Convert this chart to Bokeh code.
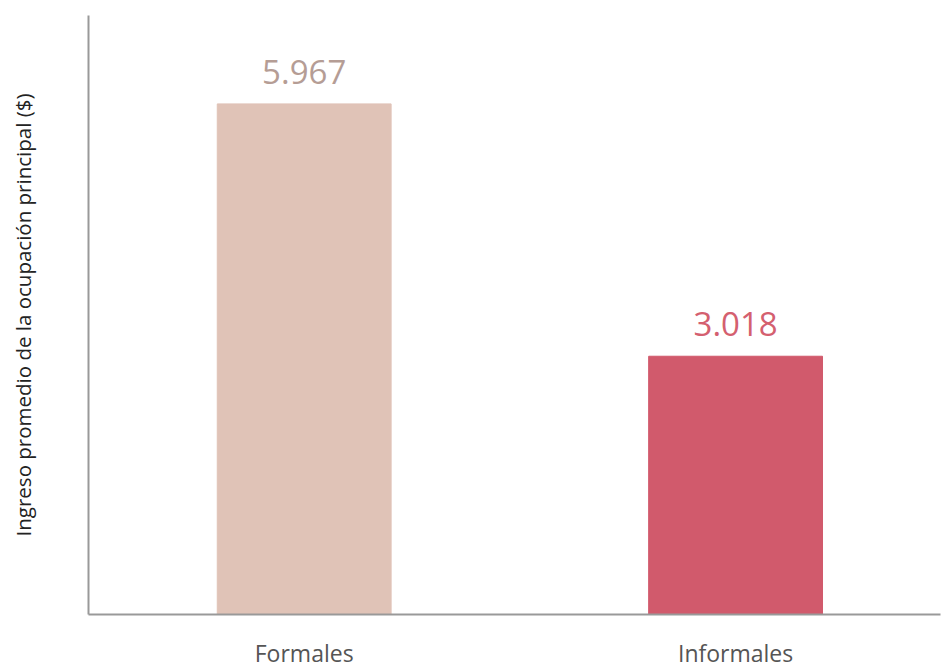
from bokeh.plotting import figure
from bokeh.models import ColumnDataSource, LabelSet, Range1d, FixedTicker
from bokeh.core.properties import value
from bokeh.embed import file_html
from bokeh.resources import INLINE

categories = ["Formales", "Informales"]
values = [5967, 3018]
value_labels = ["5.967", "3.018"]
bar_colors = ["#E0C3B7", "#D15A6C"]
label_colors = ["#B59D95", "#D4606F"]
y_title = "Ingreso promedio de la ocupación principal ($)"

xs = [i + 0.5 for i in range(len(categories))]
src = ColumnDataSource(dict(x=xs, top=values, lab=value_labels,
                            color=bar_colors, lcolor=label_colors))

FONT = "Open Sans"
p = figure(width=941, height=672, output_backend="svg", toolbar_location=None,
           x_range=Range1d(0, 1.975), y_range=Range1d(0, 7000),
           min_border_left=88, min_border_right=1, min_border_top=15,
           min_border_bottom=58)
p.outline_line_color = None
p.grid.grid_line_color = None

p.vbar(x="x", top="top", width=0.403, color="color", source=src)

labels = LabelSet(x="x", y="top", text="lab", source=src, text_align="center",
                  text_baseline="alphabetic", y_offset=20,
                  text_font_size="33px", text_color="lcolor",
                  text_font=value(FONT))
p.add_layout(labels)

p.xaxis.ticker = FixedTicker(ticks=xs)
p.xaxis.major_label_overrides = {x: c for x, c in zip(xs, categories)}
p.xaxis.major_tick_line_color = None
p.xaxis.minor_tick_line_color = None
p.xaxis.major_tick_out = 0
p.xaxis.major_tick_in = 0
p.xaxis.axis_line_color = "#999999"
p.xaxis.axis_line_width = 2
p.xaxis.major_label_text_font = FONT
p.xaxis.major_label_text_font_size = "23px"
p.xaxis.major_label_text_color = "#555555"
p.xaxis.major_label_standoff = 22

p.yaxis.ticker = FixedTicker(ticks=[])
p.yaxis.major_tick_line_color = None
p.yaxis.minor_tick_line_color = None
p.yaxis.major_tick_out = 0
p.yaxis.major_tick_in = 0
p.yaxis.axis_line_color = "#999999"
p.yaxis.axis_line_width = 2
p.yaxis.axis_label = y_title
p.yaxis.axis_label_text_font = FONT
p.yaxis.axis_label_text_font_style = "normal"
p.yaxis.axis_label_text_font_size = "20.5px"
p.yaxis.axis_label_text_color = "#222222"
p.yaxis.axis_label_standoff = 52

open("out.html", "w").write(file_html(p, INLINE))
